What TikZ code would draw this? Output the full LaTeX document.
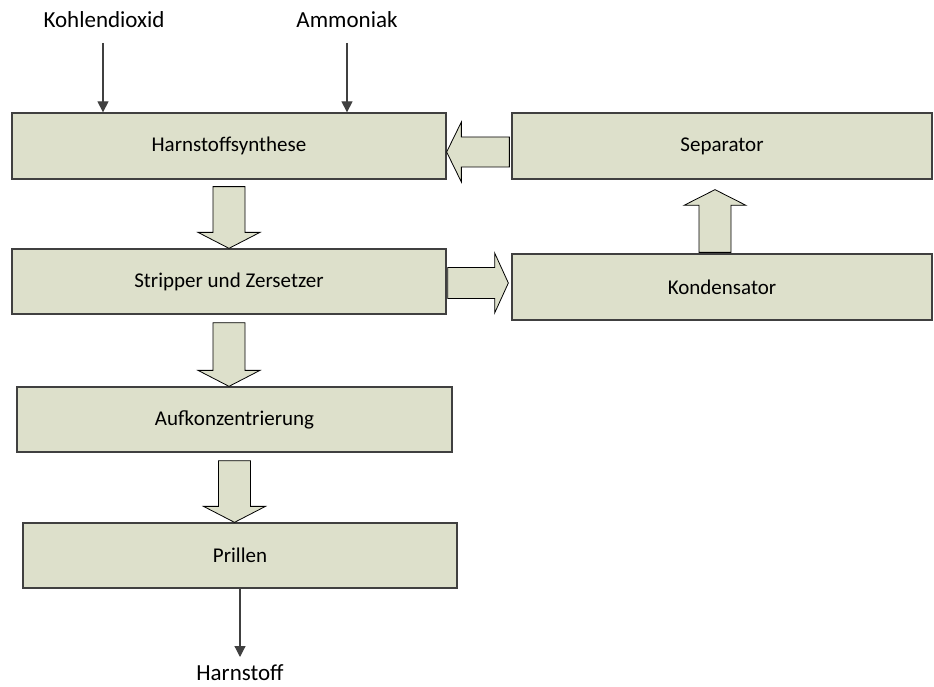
\documentclass[tikz,border=0pt]{standalone}
\usepackage{fontspec}
\setmainfont{Carlito}
\usetikzlibrary{arrows.meta,calc}

\definecolor{boxfill}{RGB}{221,224,203}
\definecolor{boxline}{RGB}{64,64,64}
\definecolor{thinline}{RGB}{64,64,64}

\tikzset{
  procbox/.style={draw=boxline, line width=1.3pt, fill=boxfill, rectangle,
    minimum height=66pt, inner sep=0pt, font=\fontsize{21}{25}\selectfont},
  blockarrow/.style={draw=black, line width=0.8pt, fill=boxfill, line join=miter},
  feed/.style={draw=thinline, line width=1.2pt,
    -{Triangle[length=11pt,width=11pt]}},
  label/.style={font=\fontsize{23}{27}\selectfont, inner sep=0pt}
}

\begin{document}
\begin{tikzpicture}[x=1pt,y=-1pt]
\useasboundingbox (0,0) rectangle (934,687);

% process units
\node[procbox, minimum width=434pt] (syn) at (229,146) {Harnstoffsynthese};
\node[procbox, minimum width=420pt] (sep) at (722,146) {Separator};
\node[procbox, minimum width=434pt, minimum height=65pt] (str) at (229,281.5) {Stripper und Zersetzer};
\node[procbox, minimum width=420pt] (kon) at (722,287) {Kondensator};
\node[procbox, minimum width=435pt, minimum height=65pt] (auf) at (234.5,419.5) {Aufkonzentrierung};
\node[procbox, minimum width=434pt, minimum height=65pt] (pri) at (240,555.5) {Prillen};

% feeds and product
\node[label] (co2) at (104,20) {Kohlendioxid};
\node[label] (nh3) at (347,20) {Ammoniak};
\node[label] (urea) at (240,673) {Harnstoff};
\coordinate (co2in) at (103,43);
\coordinate (nh3in) at (347,43);
\coordinate (ureaout) at (240,657);

\draw[feed] (co2in) -- (co2in |- syn.north);
\draw[feed] (nh3in) -- (nh3in |- syn.north);
\draw[feed] (pri.south) -- (ureaout);

% downward block arrow between two stacked units
\newcommand\blkdown[3]{% #1 upper node, #2 lower node, #3 gap below upper node
  \draw[blockarrow]
    ($(#1.south)+(-16,#3)$) -- ($(#1.south)+(16,#3)$)
    -- ($(#1.south |- #2.north)+(16,-16)$) -- ($(#1.south |- #2.north)+(31,-16)$)
    -- (#1.south |- #2.north)
    -- ($(#1.south |- #2.north)+(-31,-16)$) -- ($(#1.south |- #2.north)+(-16,-16)$)
    -- cycle;}

\blkdown{syn}{str}{7}
\blkdown{str}{auf}{8}
\blkdown{auf}{pri}{8}

% recycle: separator back to synthesis
\coordinate (rl) at ($(sep.west)+(-2,6)$);
\draw[blockarrow]
  ($(rl)+(0,-15)$) -- ($(rl)+(0,15)$) -- ($(rl)+(-48,15)$) -- ($(rl)+(-48,30)$)
  -- (syn.east |- rl) -- ($(rl)+(-48,-30)$) -- ($(rl)+(-48,-15)$) -- cycle;

% stripper off-gas to condenser
\coordinate (rr) at ($(str.east)+(1,1.5)$);
\draw[blockarrow]
  ($(rr)+(0,-15.5)$) -- ($(rr)+(47,-15.5)$) -- ($(rr)+(47,-30)$)
  -- ($(kon.west |- rr)+(-3,0)$) -- ($(rr)+(47,30)$) -- ($(rr)+(47,15.5)$)
  -- ($(rr)+(0,15.5)$) -- cycle;

% condenser up to separator
\coordinate (ru) at ($(kon.north)+(-7,-1)$);
\draw[blockarrow]
  ($(ru)+(-16,0)$) -- ($(ru)+(16,0)$) -- ($(ru)+(16,-47)$) -- ($(ru)+(31,-47)$)
  -- ($(ru |- sep.south)+(0,10)$) -- ($(ru)+(-31,-47)$) -- ($(ru)+(-16,-47)$) -- cycle;

\end{tikzpicture}
\end{document}
